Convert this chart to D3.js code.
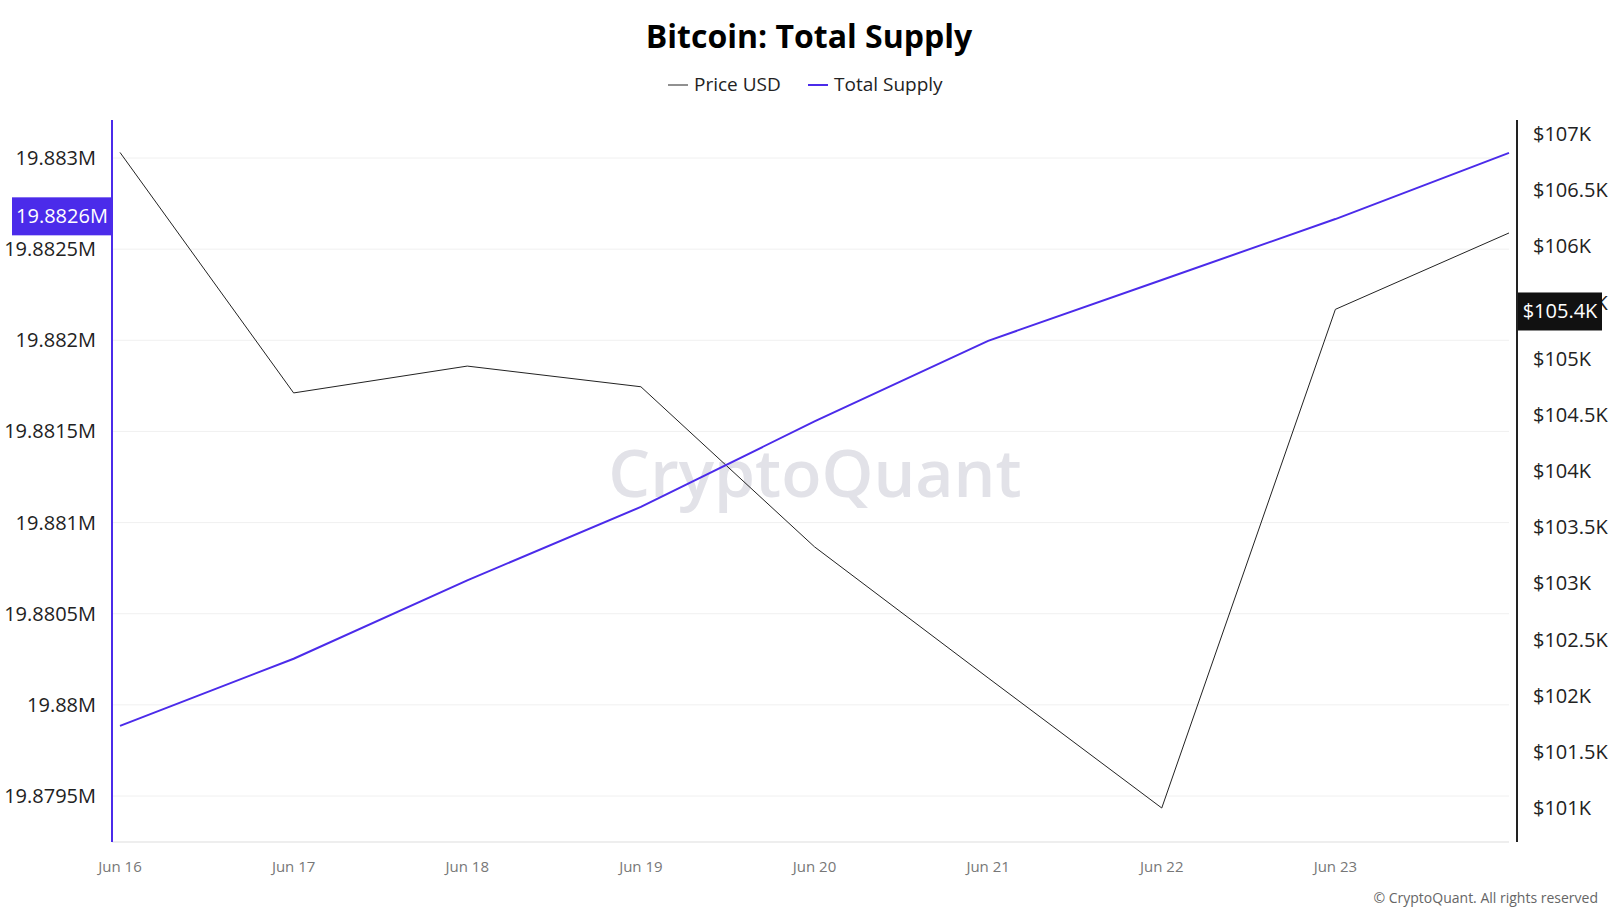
<!DOCTYPE html><html><head><meta charset="utf-8"><script src="https://cdn.jsdelivr.net/npm/d3@7"></script>
<style>body{margin:0;background:#fff}text{font-family:"Open Sans",sans-serif}</style></head><body><svg width="1619" height="914"></svg><script>
const dates=["Jun 16","Jun 17","Jun 18","Jun 19","Jun 20","Jun 21","Jun 22","Jun 23","Jun 24"];
const xTickLabels=dates.slice(0,8);
const supply=[19.879885,19.880253,19.880683,19.881086,19.881555,19.881997,19.882331,19.882665,19.883028];
const price=[106836,104695,104934,104750,103325,102158,101000,105439,106119];
const leftTicks=[19.8795,19.88,19.8805,19.881,19.8815,19.882,19.8825,19.883];
const rightTicks=[101000,101500,102000,102500,103000,103500,104000,104500,105000,105500,106000,106500,107000];
const svg=d3.select("svg");
const x=d3.scalePoint().domain(dates).range([120,1509]);
const yL=d3.scaleLinear().domain([19.8795,19.883]).range([796,158]);
const yR=d3.scaleLinear().domain([101000,107000]).range([808,134]);
svg.append("text").attr("x",809).attr("y",48).attr("text-anchor","middle").attr("font-size",32).attr("font-weight",700).text("Bitcoin: Total Supply");
const lg=svg.append("g").attr("font-size",19).attr("fill","#222");
lg.append("line").attr("x1",668).attr("x2",688).attr("y1",85).attr("y2",85).attr("stroke","#222");
lg.append("text").attr("x",694).attr("y",91).text("Price USD");
lg.append("line").attr("x1",808).attr("x2",828).attr("y1",85).attr("y2",85).attr("stroke","#4b2bea").attr("stroke-width",2);
lg.append("text").attr("x",834).attr("y",91).text("Total Supply");
svg.append("g").selectAll("line").data(leftTicks).join("line").attr("x1",112).attr("x2",1509).attr("y1",d=>yL(d)).attr("y2",d=>yL(d)).attr("stroke","#f0f0f0");
svg.append("text").attr("x",815).attr("y",497).attr("text-anchor","middle").attr("font-size",66).attr("font-weight",600).attr("fill","#e2e2e8").text("CryptoQuant");
svg.append("line").attr("x1",112).attr("x2",1509).attr("y1",842).attr("y2",842).attr("stroke","#ddd");
svg.append("line").attr("x1",112).attr("x2",112).attr("y1",120).attr("y2",842).attr("stroke","#4b2bea").attr("stroke-width",2);
svg.append("line").attr("x1",1517).attr("x2",1517).attr("y1",120).attr("y2",842).attr("stroke","#222").attr("stroke-width",2);
svg.append("g").selectAll("text").data(leftTicks).join("text").attr("x",96).attr("y",d=>yL(d)+7).attr("text-anchor","end").attr("font-size",20).attr("fill","#222").text(d=>d3.format(".4~f")(d)+"M");
svg.append("g").selectAll("text").data(rightTicks).join("text").attr("x",1533).attr("y",d=>yR(d)+7).attr("font-size",20).attr("fill","#222").text(d=>"$"+d3.format("~")(d/1000)+"K");
svg.append("g").selectAll("text").data(xTickLabels).join("text").attr("x",d=>x(d)).attr("y",872).attr("text-anchor","middle").attr("font-size",15).attr("fill","#777").text(d=>d);
svg.append("path").datum(price).attr("fill","none").attr("stroke","#222").attr("stroke-width",1).attr("d",d3.line().x((d,i)=>x(dates[i])).y(d=>yR(d)));
svg.append("path").datum(supply).attr("fill","none").attr("stroke","#4b2bea").attr("stroke-width",2).attr("d",d3.line().x((d,i)=>x(dates[i])).y(d=>yL(d)));
const hl=19.88268,hy=yL(hl);
svg.append("rect").attr("x",12).attr("y",hy-19).attr("width",99).attr("height",38).attr("fill","#4b2bea");
svg.append("text").attr("x",62).attr("y",hy+7).attr("text-anchor","middle").attr("font-size",20).attr("fill","#fff").text("19.8826M");
const hp=105420,py=yR(hp);
svg.append("rect").attr("x",1518).attr("y",py-19).attr("width",84).attr("height",38).attr("fill","#111");
svg.append("text").attr("x",1560).attr("y",py+7).attr("text-anchor","middle").attr("font-size",20).attr("fill","#fff").text("$105.4K");
svg.append("text").attr("x",1598).attr("y",903).attr("text-anchor","end").attr("font-size",14).attr("fill","#666").text("© CryptoQuant. All rights reserved");
</script></body></html>
